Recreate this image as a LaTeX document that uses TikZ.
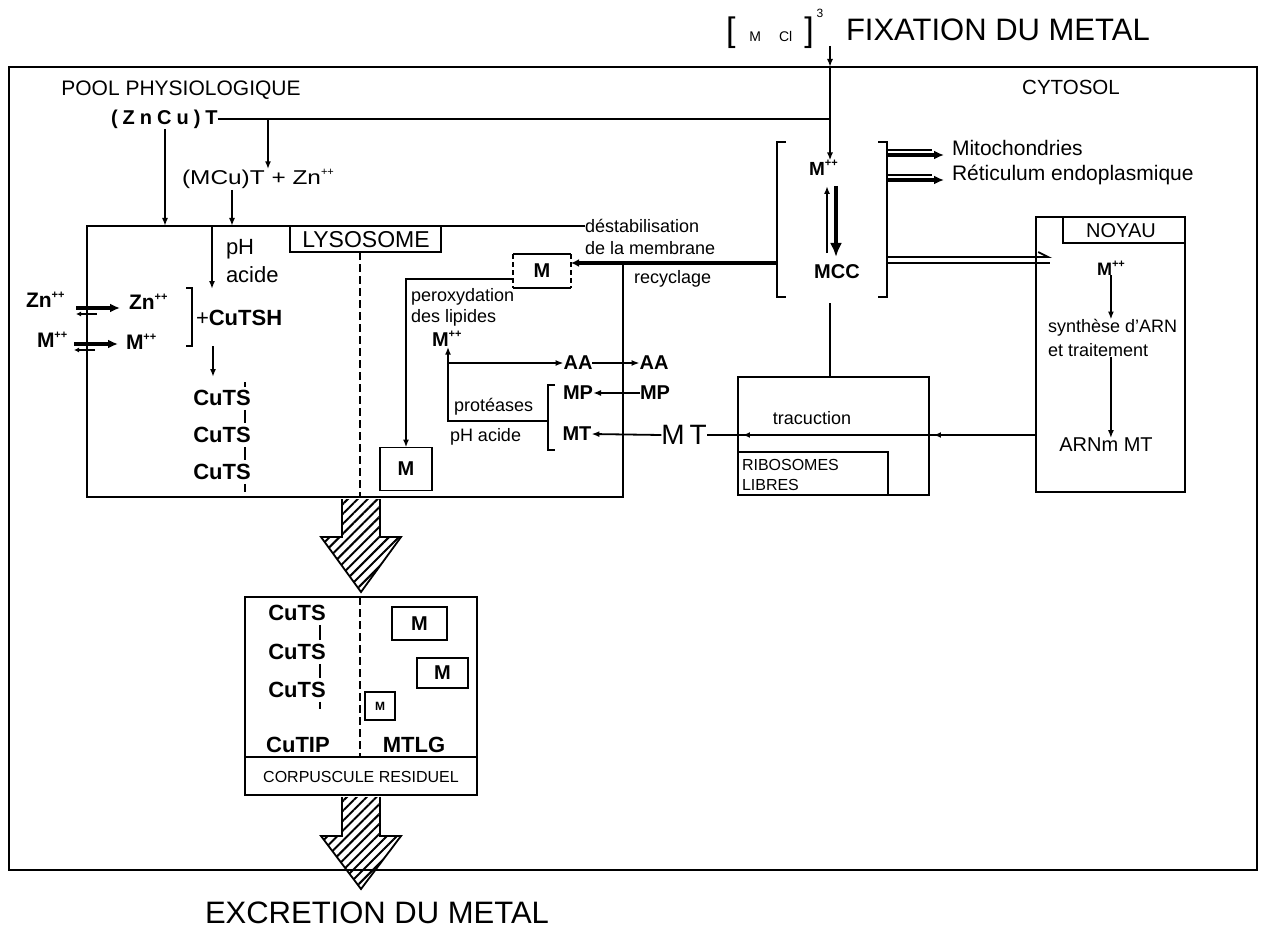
\documentclass[tikz,border=0pt]{standalone}
\usepackage{fontspec}
\usepackage{graphicx}
\setmainfont{Liberation Sans}
\usetikzlibrary{arrows.meta,patterns.meta,decorations.markings,calc}
\newcommand\fsz[1]{\fontsize{#1}{#1}\selectfont}
\newcommand\spp[1]{\raisebox{0.45em}{\fsz{11}#1}}
\begin{document}
\begin{tikzpicture}[x=1pt,y=-1pt,
  every node/.style={inner sep=0pt,outer sep=0pt},
  lw/.style={line width=1.8pt},
  thk/.style={line width=2.6pt},
  arr/.style={-{Latex[length=8pt,width=6pt]}},
  bigarr/.style={line width=3.5pt,-{Latex[length=10pt,width=9pt]}},
  t18/.style={font=\fsz{18}},
  t20/.style={font=\fsz{20}},
  b20/.style={font=\fsz{20}\bfseries},
  b22/.style={font=\fsz{22}\bfseries},
  mbox/.style={draw,lw,font=\fsz{20}\bfseries},
  dsh/.style={lw,dash pattern=on 8pt off 4pt},
  hatch/.style={pattern={Lines[angle=45,distance=7pt,line width=2pt]}}]
\useasboundingbox (0,0) rectangle (1261,936);
\fill[white] (0,0) rectangle (1261,936);

% ---------- cell ----------
\draw[thk] (9,67) rectangle (1257,870);

% ---------- top label ----------
\node[anchor=west] (mcl) at (726,33) {{\fsz{34}[}\kern14pt{\fsz{14}M\kern18pt Cl}\kern12pt{\fsz{34}]}};
\node[font=\fsz{12}] (three) at (820,13) {3};
\node[font=\fsz{31},anchor=west] (fix) at (846,30) {FIXATION DU METAL};
\coordinate (fixtail) at (830,46);
\coordinate (topb) at (830,67);
\draw[lw,arr] (fixtail) -- (topb);

\node[font=\fsz{21}] (pool) at (181,90) {POOL PHYSIOLOGIQUE};
\node[font=\fsz{20.5}] (cyto) at (1071,87) {CYTOSOL};

% ---------- pool ----------
\node[font=\fsz{20}\bfseries,anchor=west] (zncu) at (111,119)
  {(\kern5pt Z\kern5pt n\kern5pt C\kern5pt u\kern5pt)\kern5pt T};
\coordinate (j1) at (830,119);
\draw[thk] (zncu.east) -- (j1);
\node[font=\fsz{20}] (mcu) at (258,179) {\scalebox{1.22}[1]{(MCu)T + Zn}\spp{++}};
\coordinate (j2) at (268,119);
\draw[lw,arr] (j2) -- (j2 |- mcu.north);
\coordinate (zdrop) at (165,129);
\coordinate (lysotop) at (87,226);
\draw[lw,arr] (zdrop) -- (zdrop |- lysotop);
\coordinate (mdrop) at (232,190);
\draw[lw,arr] (mdrop) -- (mdrop |- lysotop);

% ---------- lysosome ----------
\node[t18,anchor=west] (dest1) at (585,226) {déstabilisation};
\node[t18,anchor=west] (dest2) at (585,248) {de la membrane};
\node[t18,anchor=west] (recy) at (634,279) {recyclage};
\coordinate (lysoBL) at (87,497);
\coordinate (lysoBR) at (623,497);
\coordinate (lysoR) at (623,263);
\draw[thk] (dest1.west) -- (lysotop) -- (lysoBL) -- (lysoBR) -- (lysoR);

\node[font=\fsz{23}] (lysolab) at (366,240) {LYSOSOME};
\draw[lw] (290,226) -- (290,252) -- (441,252) -- (441,226);
\draw[dsh] (360,252) -- (360,497);

% Zn / M exchange
\node[font=\fsz{21}\bfseries,anchor=west] (zno) at (26,300) {Zn\spp{++}};
\node[font=\fsz{21}\bfseries,anchor=west] (mo) at (37,340) {M\spp{++}};
\node[font=\fsz{21}\bfseries,anchor=west] (zni) at (129,302) {Zn\spp{++}};
\node[font=\fsz{21}\bfseries,anchor=west] (mi) at (126,342) {M\spp{++}};
\coordinate (za) at (76,308); \coordinate (zb) at (120,308);
\coordinate (zc) at (97,314); \coordinate (zd) at (76,314);
\draw[bigarr] (za) -- (zb);
\draw[lw,-{Latex[length=5pt,width=5pt]}] (zc) -- (zd);
\coordinate (ma) at (74,344); \coordinate (mb) at (118,344);
\coordinate (mc) at (95,350); \coordinate (md) at (74,350);
\draw[bigarr] (ma) -- (mb);
\draw[lw,-{Latex[length=5pt,width=5pt]}] (mc) -- (md);
\draw[lw] (186,288) -- (192,288) -- (192,346) -- (186,346);
\node[b22,anchor=west] (cutsh) at (196,318) {{\mdseries +}CuTSH};

\coordinate (pha) at (212,226);
\coordinate (phb) at (212,289);
\draw[lw,arr] (pha) -- (phb);
\node[font=\fsz{22},anchor=west] (ph) at (226,249) {pH};
\node[font=\fsz{22},anchor=west] (acide) at (226,275) {acide};

\coordinate (cdrop) at (213,346);
\coordinate (cdrop2) at (213,377);
\draw[lw,arr] (cdrop) -- (cdrop2);
\node[b22] (cuts1) at (222,398) {CuTS};
\node[b22] (cuts2) at (222,435) {CuTS};
\node[b22] (cuts3) at (222,472) {CuTS};
\draw[lw] ([xshift=-6pt,yshift=3pt]cuts1.north east) -- ++(0,-5);
\draw[lw] ([xshift=-6pt,yshift=-4pt]cuts1.south east) -- ([xshift=-6pt,yshift=4pt]cuts2.north east);
\draw[lw] ([xshift=-6pt,yshift=-4pt]cuts2.south east) -- ([xshift=-6pt,yshift=4pt]cuts3.north east);
\draw[lw] ([xshift=-6pt,yshift=-4pt]cuts3.south east) -- ++(0,8);

\node[mbox,minimum width=52,minimum height=43] (mlow) at (406,469) {M};

% dashed M box on membrane
\node[minimum width=58,minimum height=34,font=\fsz{20}\bfseries] (mdash) at (542,271) {M};
\draw[lw] (mdash.north west) -- (mdash.north east);
\draw[lw] (mdash.south west) -- (mdash.south east);
\draw[lw,dash pattern=on 5pt off 3pt] (mdash.north west) -- (mdash.south west);
\draw[lw,dash pattern=on 5pt off 3pt] (mdash.north east) -- (mdash.south east);
\draw[lw,arr] ([yshift=-8pt]mdash.west) -| (mlow.north);
\coordinate (lbrm) at (777,263);
\draw[line width=4pt,-{Latex[length=8pt,width=8pt]}] (lbrm) -- ([yshift=8pt]mdash.east);

\node[t18,anchor=west] (perox) at (411,297) {peroxydation};
\node[t18,anchor=west] (desl) at (411,318) {des lipides};
\node[b20,anchor=west] (mpp2) at (432,339) {M\spp{++}};

% proteolysis
\draw[lw] (555,385) -- (548,385) -- (548,450) -- (555,450);
\coordinate (brk) at (548,421);
\coordinate (corner) at (448,421);
\draw[lw,arr] (brk) -- (corner) -- (corner |- mpp2.south);
\node[b20] (aa1) at (578,363) {AA};
\node[b20] (aa2) at (654,363) {AA};
\coordinate (aaj) at (448,363);
\draw[lw,arr] (aaj) -- (aa1.west);
\draw[lw,arr] (aa1.east) -- (aa2.west);
\node[b20] (mp1) at (578,393) {MP};
\node[b20] (mp2) at (655,393) {MP};
\draw[lw,arr] (mp2.west) -- (mp1.east);
\node[b20] (mt1) at (577,434) {MT};
\node[font=\fsz{28}] (bigmt) at (684,435) {M\kern5pt T};
\draw[lw,arr] (bigmt.west) -- (mt1.east);
\node[t18,anchor=west] (prot) at (454,407) {protéases};
\node[t18,anchor=west] (phac) at (450,437) {pH acide};

% ---------- MCC ----------
\draw[lw] (786,142) -- (777,142) -- (777,297) -- (786,297);
\draw[lw] (878,142) -- (887,142) -- (887,297) -- (878,297);
\node[font=\fsz{19}\bfseries,anchor=west] (mppc) at (809,168) {M\spp{++}};
\draw[lw,arr] (topb) -- (mppc.north -| topb);
\node[b20] (mcc) at (837,272) {MCC};
\coordinate (eqa) at (827,253); \coordinate (eqb) at (827,186);
\coordinate (eqc) at (836,186); \coordinate (eqd) at (836,257);
\draw[lw,arr] (eqa) -- (eqb);
\draw[line width=3.5pt,-{Latex[length=14pt,width=12pt]}] (eqc) -- (eqd);

\node[font=\fsz{21},anchor=west] (mito) at (952,148) {Mitochondries};
\node[font=\fsz{21},anchor=west] (reti) at (952,175) {Réticulum endoplasmique};
\coordinate (rb1) at (887,155); \coordinate (rb1t) at (887,150);
\coordinate (rb2) at (887,180); \coordinate (rb2t) at (887,175);
\draw[bigarr] (rb1) -- ($(mito.west |- rb1)+(-8,0)$);
\draw[lw] (rb1t) -- ($(mito.west |- rb1t)+(-20,0)$);
\draw[bigarr] (rb2) -- ($(reti.west |- rb2)+(-8,0)$);
\draw[lw] (rb2t) -- ($(reti.west |- rb2t)+(-20,0)$);

% ---------- nucleus ----------
\node[draw,line width=2pt,minimum width=149,minimum height=275] (noyau) at (1110.5,354.5) {};
\draw[lw] (1063,217) -- (1063,243) -- (1185,243);
\node[font=\fsz{20}] (noyt) at (1121,231) {NOYAU};
\coordinate (rb3) at (887,257); \coordinate (rb4) at (887,263);
\draw[lw,-{Straight Barb[harpoon,length=10pt,width=10pt]}] (rb3) -- ($(noyau.west |- rb3)+(16,0)$);
\draw[lw] (rb4) -- ($(noyau.west |- rb4)+(14,0)$);
\node[font=\fsz{18}\bfseries,anchor=west] (mppn) at (1097,268) {M\spp{++}};
\node[t18,anchor=west] (syn1) at (1048,328) {synthèse d'ARN};
\node[t18,anchor=west] (syn2) at (1048,350) {et traitement};
\node[t20] (arnm) at (1106,445) {ARNm MT};
\draw[lw,arr] (mppn.south) -- (syn1.north -| mppn.south);
\draw[lw,arr] (syn2.south -| mppn.south) -- (arnm.north -| mppn.south);

% ---------- ribosomes ----------
\node[draw,lw,minimum width=191,minimum height=118] (ribo) at (833.5,436) {};
\node[draw,lw,minimum width=150,minimum height=43,anchor=south west] (ribl) at (ribo.south west) {};
\node[t18] (trad) at (812,418) {tracuction};
\node[font=\fsz{16},anchor=west] (ribt1) at (742,465) {RIBOSOMES};
\node[font=\fsz{16},anchor=west] (ribt2) at (742,485) {LIBRES};
\coordinate (mccb) at (830,303);
\draw[lw] (mccb) -- (mccb |- ribo.north);
\draw[lw,postaction={decorate},decoration={markings,
   mark=at position 0.31 with {\arrow{Latex[length=7pt,width=6pt]}},
   mark=at position 0.89 with {\arrow{Latex[length=7pt,width=6pt]}}}]
   (noyau.west |- bigmt.east) -- (bigmt.east);

% ---------- residual body ----------
\fill[hatch] (342,499) -- (342,537) -- (321,537) -- (361,592) -- (401,537) -- (380,537) -- (380,499) -- cycle;
\draw[lw] (342,499) -- (342,537) -- (321,537) -- (361,592) -- (401,537) -- (380,537) -- (380,499);

\node[draw,lw,minimum width=232,minimum height=198] (corp) at (361,696) {};
\draw[lw] (245,757) -- (477,757);
\draw[dsh] (360,597) -- (360,757);
\node[font=\fsz{16}] (resid) at (361,777) {CORPUSCULE RESIDUEL};
\node[b22] (c1) at (297,613) {CuTS};
\node[b22] (c2) at (297,652) {CuTS};
\node[b22] (c3) at (297,690) {CuTS};
\draw[lw] ([xshift=-6pt,yshift=-4pt]c1.south east) -- ([xshift=-6pt,yshift=4pt]c2.north east);
\draw[lw] ([xshift=-6pt,yshift=-4pt]c2.south east) -- ([xshift=-6pt,yshift=4pt]c3.north east);
\draw[lw] ([xshift=-6pt,yshift=-4pt]c3.south east) -- ++(0,7);
\node[b22] (cutip) at (298,745) {CuTIP};
\node[b22] (mtlg) at (414,745) {MTLG};
\node[mbox,minimum width=55,minimum height=33] (cm1) at (419.5,623.5) {M};
\node[mbox,minimum width=51,minimum height=30] (cm2) at (442.5,673) {M};
\node[draw,lw,minimum width=30,minimum height=28,font=\fsz{12}\bfseries] (cm3) at (380,706) {M};

\fill[hatch] (342,797) -- (342,836) -- (321,836) -- (361,889) -- (401,836) -- (380,836) -- (380,797) -- cycle;
\draw[lw] (342,797) -- (342,836) -- (321,836) -- (361,889) -- (401,836) -- (380,836) -- (380,797);

\node[font=\fsz{31},anchor=west] (excr) at (205,913) {EXCRETION DU METAL};
\end{tikzpicture}
\end{document}
